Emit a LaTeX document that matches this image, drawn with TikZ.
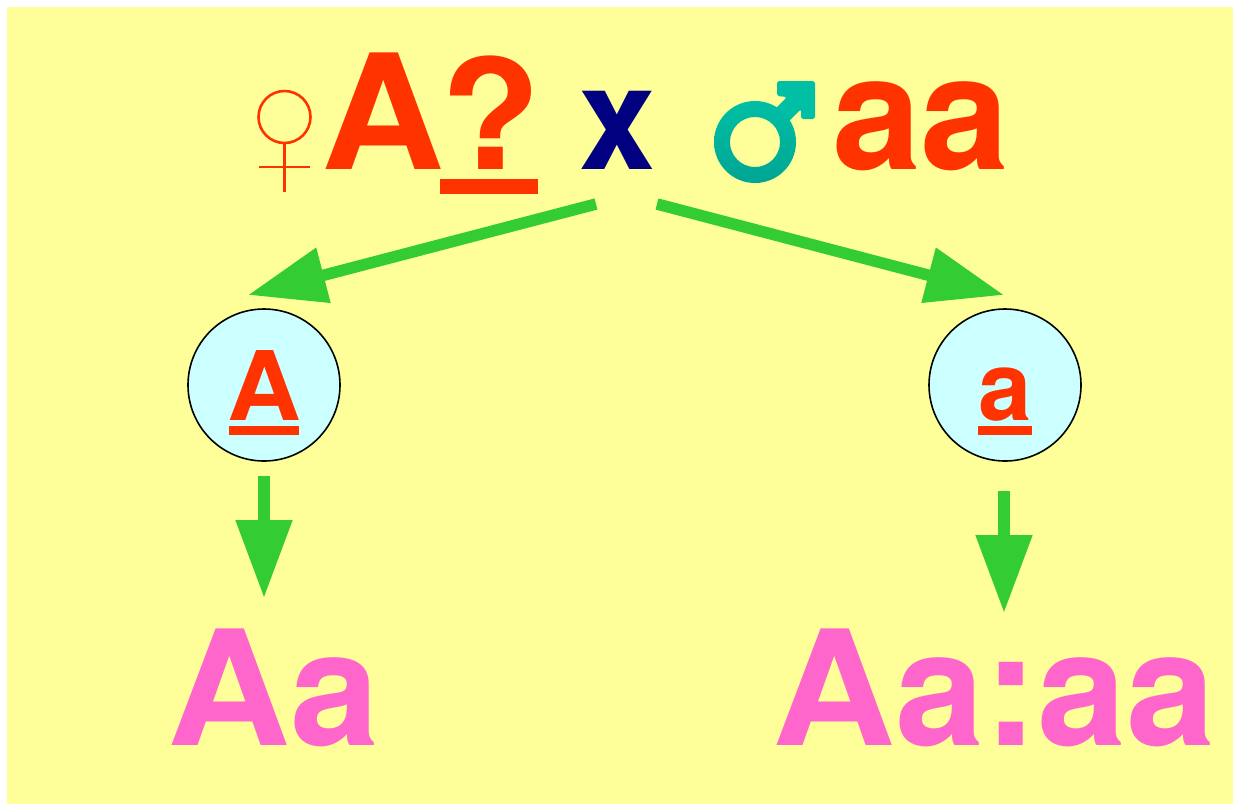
\documentclass[tikz,border=0pt]{standalone}
\usepackage{fontspec}
\setmainfont{TeX Gyre Heros}
\usetikzlibrary{arrows.meta}
\definecolor{bgyellow}{HTML}{FFFF99}
\definecolor{redorange}{HTML}{FF3300}
\definecolor{arrowgreen}{HTML}{33CC33}
\definecolor{gamete}{HTML}{CCFFFF}
\definecolor{pinktxt}{HTML}{FF66CC}
\definecolor{navytxt}{HTML}{000080}
\definecolor{tealtop}{HTML}{00BFA5}
\definecolor{tealbot}{HTML}{00A594}
\newcommand{\wideA}{\scalebox{1.065}[1]{A}}
\tikzset{
  big/.style={anchor=base west,inner sep=0pt,outer sep=0pt,font=\fontsize{160}{160}\selectfont\bfseries},
  parent/.style={big,text=redorange},
  offspring/.style={big,text=pinktxt},
  gametebox/.style={circle,draw=black,line width=1.6pt,fill=gamete,minimum size=152pt,inner sep=0pt},
  gametetxt/.style={anchor=base,inner sep=0pt,text=redorange,font=\fontsize{96}{96}\selectfont\bfseries},
  bar/.style={fill=redorange,draw=none},
  femline/.style={draw=redorange,line width=2.6pt},
  flow/.style={draw=arrowgreen,line width=11.5pt,-{Triangle[length=78pt,width=54pt,fill=arrowgreen]}}
}
\begin{document}
\begin{tikzpicture}[x=1pt,y=-1pt]
\useasboundingbox (0,0) rectangle (1233,804);
\fill[white] (0,0) rectangle (1233,804);
\fill[bgyellow] (7,7) rectangle (1233,804);
% parents
\draw[femline] (284.5,117) circle (26);
\draw[femline] (284.5,143) -- (284.5,192);
\draw[femline] (259,167) -- (310,167);
\node[parent] (mother) at (321.5,169) {\wideA\kern-4pt\scalebox{1.03}[0.955]{?}};
\fill[bar] (440,179) rectangle (538,194);
\node[big,text=navytxt,anchor=base,font=\fontsize{145}{145}\selectfont\bfseries] (cross) at (618,169) {\scalebox{0.945}[1]{x}};
\node[parent] (father) at (832,169) {aa};
% male symbol
\fill[tealtop,rounded corners=2.5pt] (777,81) -- (815,81) -- (815,119) -- (801,119) -- (801,109) -- (790,120) -- (784,126) -- (771,113) -- (787,97) -- (777,96) -- cycle;
\shade[even odd rule,top color=tealtop,bottom color=tealbot] (755,142) circle (41) (755,142) circle (25);
% gametes
\node[gametebox] (ga) at (264,385) {};
\node[gametebox] (gb) at (1005,385) {};
\node[gametetxt] (gat) at (264,420) {\scalebox{1.065}[1]{A}};
\node[gametetxt] (gbt) at (1005,420) {a};
\fill[bar] (229,426) rectangle (299,435);
\fill[bar] (978,426) rectangle (1032,435);
% offspring
\node[offspring] (oa) at (167,745) {\wideA a};
\node[offspring] (ob) at (772,745) {\wideA a:aa};
% connector ends
\coordinate (s1) at (596,204);
\coordinate (e1) at (248,295);
\coordinate (s2) at (657,204);
\coordinate (e2) at (1004,295);
\coordinate (s3) at (264,476);
\coordinate (e3) at (264,598);
\coordinate (s4) at (1004,491);
\coordinate (e4) at (1004,613);
\draw[flow] (s1) -- (e1);
\draw[flow] (s2) -- (e2);
\draw[flow] (s3) -- (e3);
\draw[flow] (s4) -- (e4);
\end{tikzpicture}
\end{document}
